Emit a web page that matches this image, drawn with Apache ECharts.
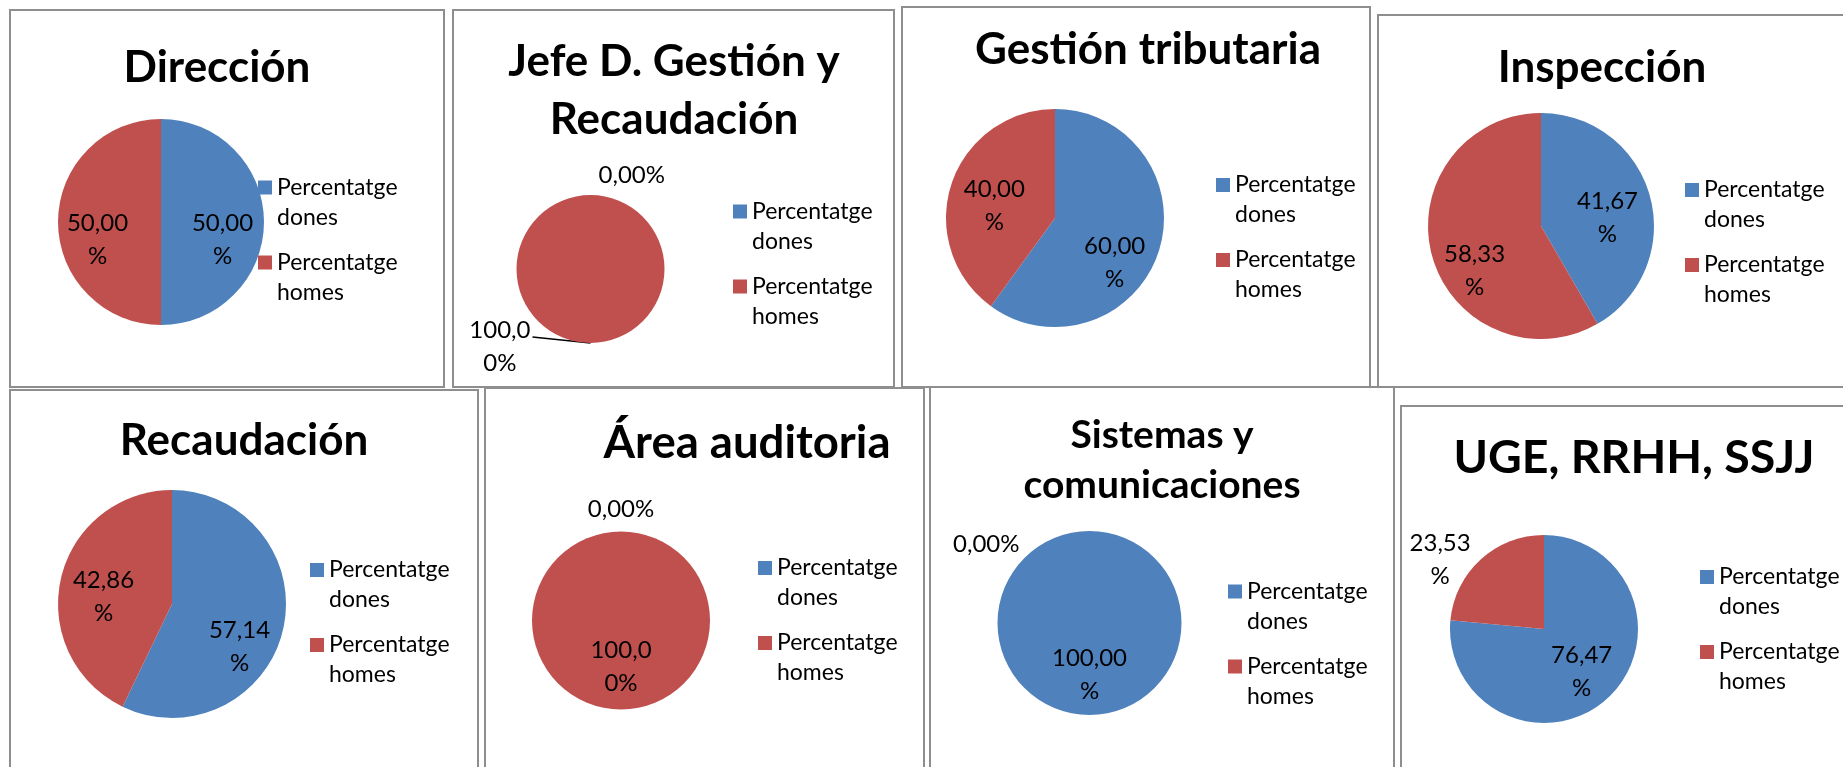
<!DOCTYPE html>
<html>
<head>
<meta charset="utf-8">
<script src="https://cdn.jsdelivr.net/npm/echarts@6/dist/echarts.min.js"></script>
<style>
html, body { margin: 0; padding: 0; background: #fff; width: 1843px; height: 767px; overflow: hidden; }
.panel { position: absolute; box-sizing: border-box; border: 2px solid #8e8e8e; background: #fff; }
.panel > div { width: 100%; height: 100%; }
</style>
</head>
<body>
<script>
// datos de las 8 tartas (porcentajes)
const seriesNames = ["Percentatge dones", "Percentatge homes"];
const titles = [
  "Dirección",
  "Jefe D. Gestión y\nRecaudación",
  "Gestión tributaria",
  "Inspección",
  "Recaudación",
  "Área auditoria",
  "Sistemas y\ncomunicaciones",
  "UGE, RRHH, SSJJ"
];
const dones = [50, 0, 60, 41.67, 57.14, 0, 100, 76.47];
const homes = [50, 100, 40, 58.33, 42.86, 100, 0, 23.53];
// Excel parte las etiquetas: posicion del salto (0 = sin salto)
const breakDones = [5, 0, 5, 5, 5, 0, 6, 5];
const breakHomes = [5, 5, 5, 5, 5, 5, 0, 5];

const colors = ["#4f81bd", "#c0504d"];

// cajas: [left, top, width, height], pie: [cx, cy, r], title: [x, y, size, lineHeight], legend: [x, primera linea]
const layout = [
  { box: [9, 9, 436, 379], pie: [150, 211, 103], title: [206, 57, 44, 58], legend: [247, 176.5] },
  { box: [452, 9, 443, 379], pie: [136.5, 258, 74], title: [220, 80, 44, 58], legend: [279, 200.5], startAngle: 89.99 },
  { box: [901, 6, 470, 382], pie: [152, 210, 109], title: [245, 42, 44, 58], legend: [313, 177] },
  { box: [1377, 14, 500, 374], pie: [162, 210, 113], title: [223, 52, 44, 58], legend: [306, 174] },
  { box: [9, 389, 470, 400], pie: [161, 213, 114], title: [233, 50, 44, 58], legend: [299, 179] },
  { box: [484, 387, 441, 400], pie: [135, 231.5, 89], title: [261, 54, 45.5, 58], legend: [272, 179] },
  { box: [929, 386, 466, 400], pie: [158.5, 235, 92], title: [231, 72, 39, 50], legend: [297, 203.5], startAngle: 90.01 },
  { box: [1400, 405, 480, 400], pie: [142, 222, 94], title: [232, 50.5, 46.5, 58], legend: [298, 170] }
];

// etiquetas que Excel puso fuera de la tarta
const outLabels = {
  1: { 0: { len: 20, len2: 3 }, 1: { len: 0, len2: 55, line: true, dy: 4, lift: 6 } },
  5: { 0: { len: 22, len2: 0, center: true } },
  6: { 1: { len: -13, len2: 65 } },
  7: { 1: { len: 0, len2: 5 } }
};
// desplazamiento de las etiquetas interiores respecto a r/2 [dx, dy]
const nudges = [
  [[7, 18], [-9, 18]],
  [[0, 0], [0, 0]],
  [[5, 27], [-6, 6]],
  [[9, 7], [-9, 29]],
  [[9, 29], [-10, 6]],
  [[0, 0], [0, -1]],
  [[0, 3], [0, 0]],
  [[4, 6], [0, 0]]
];

function fmtLabel(v, br) {
  let s = v.toFixed(2).replace(".", ",") + "%";
  if (br) s = s.slice(0, br) + "\n" + s.slice(br);
  return s;
}

function makeOption(i) {
  const lay = layout[i];
  const outs = outLabels[i] || {};
  const breaks = [breakDones[i], breakHomes[i]];
  const data = [dones[i], homes[i]].map(function (v, j) {
    const item = { name: seriesNames[j], value: v, itemStyle: { color: colors[j] } };
    const o = outs[j];
    if (o) {
      item.label = { position: "outside", distanceToLabelLine: o.center ? 0 : 5 };
      item.labelLine = {
        show: !!o.line,
        length: o.len,
        length2: o.len2,
        smooth: false,
        lineStyle: { color: "#000", width: 1.5 }
      };
    }
    return item;
  });

  return {
    animation: false,
    title: {
      text: titles[i],
      left: lay.title[0],
      top: lay.title[1],
      textAlign: "center",
      textVerticalAlign: "middle",
      padding: 0,
      textStyle: {
        fontFamily: "Lato",
        fontWeight: "bold",
        fontSize: lay.title[2],
        lineHeight: lay.title[3],
        color: "#000"
      }
    },
    legend: {
      orient: "vertical",
      left: lay.legend[0],
      top: lay.legend[1] - 45,
      padding: 0,
      itemGap: -15,
      itemWidth: 14,
      itemHeight: 14,
      icon: "rect",
      selectedMode: false,
      // linea vacia delante para que el cuadro quede junto a la primera linea
      formatter: function (n) { return " \n" + n.replace(" ", "\n"); },
      textStyle: {
        fontFamily: "Lato",
        fontSize: 23,
        lineHeight: 30,
        color: "#000"
      },
      data: seriesNames
    },
    series: [{
      type: "pie",
      center: [lay.pie[0], lay.pie[1]],
      radius: lay.pie[2],
      startAngle: lay.startAngle || 90,
      clockwise: true,
      avoidLabelOverlap: false,
      emphasis: { disabled: true },
      itemStyle: { borderWidth: 0 },
      label: {
        show: true,
        position: "inside",
        fontFamily: "Lato",
        fontSize: 24,
        lineHeight: 33,
        color: "#000",
        formatter: function (p) { return fmtLabel(p.value, breaks[p.dataIndex]); }
      },
      labelLine: { show: false },
      labelLayout: function (p) {
        const o = outs[p.dataIndex];
        if (o) {
          if (o.center) return { align: "center" };
          const w = p.labelRect.width / 2;
          const res = { align: "center", dx: p.align === "right" ? -w : w, dy: o.dy || 0 };
          if (o.lift && p.labelLinePoints) {
            const pts = p.labelLinePoints.map(function (q) { return q.slice(); });
            const last = pts[pts.length - 1];
            last[0] -= 3;
            last[1] -= o.lift;
            res.labelLinePoints = pts;
          }
          return res;
        }
        const n = nudges[i][p.dataIndex];
        return { dx: n[0], dy: n[1] };
      },
      data: data
    }]
  };
}

for (let i = 0; i < layout.length; i++) {
  const b = layout[i].box;
  const panel = document.createElement("div");
  panel.className = "panel";
  panel.style.left = b[0] + "px";
  panel.style.top = b[1] + "px";
  panel.style.width = b[2] + "px";
  panel.style.height = b[3] + "px";
  const dom = document.createElement("div");
  panel.appendChild(dom);
  document.body.appendChild(panel);
  const chart = echarts.init(dom);
  chart.setOption(makeOption(i));
}
</script>
</body>
</html>
